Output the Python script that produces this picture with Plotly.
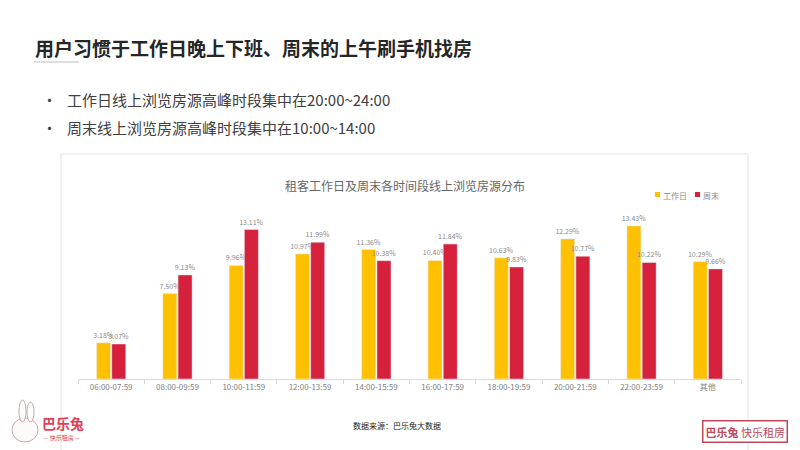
import plotly.graph_objects as go

categories = ['06:00-07:59', '08:00-09:59', '10:00-11:59', '12:00-13:59', '14:00-15:59',
              '16:00-17:59', '18:00-19:59', '20:00-21:59', '22:00-23:59', '其他']
workday = [3.18, 7.50, 9.96, 10.97, 11.36, 10.40, 10.63, 12.29, 13.43, 10.29]
weekend = [3.07, 9.13, 13.11, 11.99, 10.38, 11.84, 9.83, 10.77, 10.22, 9.66]

FONT = "Noto Sans CJK SC"
YELLOW = '#FFC000'
RED = '#D6213D'

# the page body has an 8px margin, so work in screen pixels and shift
OFF = 8
W, H = 800 - OFF, 450 - OFF
# plot area in screen pixels
L, R, T, B = 78, 741, 208, 379


def px_x(x):
    return (x - L) / (R - L)


def px_y(y):
    return (B - y) / (B - T)


fig = go.Figure()
fig.add_trace(go.Bar(
    name='工作日', x=categories, y=workday, marker_color=YELLOW,
    text=[f'{v:.2f}%' for v in workday], textposition='outside', constraintext='none',
    textfont=dict(size=7, color='#8c8c8c'), cliponaxis=False,
))
fig.add_trace(go.Bar(
    name='周末', x=categories, y=weekend, marker_color=RED,
    text=[f'{v:.2f}%' for v in weekend], textposition='outside', constraintext='none',
    textfont=dict(size=7, color='#8c8c8c'), cliponaxis=False,
))

fig.update_layout(
    width=W, height=H,
    margin=dict(l=L - OFF, r=800 - R, t=T - OFF, b=450 - B),
    paper_bgcolor='white', plot_bgcolor='white',
    font=dict(family=FONT, color='#595959'),
    barmode='group', bargap=0.54, bargroupgap=0.08,
    showlegend=False,
)

fig.update_xaxes(
    showline=True, linecolor='#d9d9d9', linewidth=1,
    ticks='outside', tickson='boundaries', ticklen=4, tickcolor='#d9d9d9',
    tickfont=dict(size=8, color='#7f7f7f'), showgrid=False,
)
fig.update_yaxes(range=[0, 15], visible=False, showgrid=False)


def rect(x0, y0, x1, y1, **kw):
    fig.add_shape(type='rect', xref='paper', yref='paper',
                  x0=px_x(x0), x1=px_x(x1), y0=px_y(y1), y1=px_y(y0), **kw)


# chart frame
rect(61, 154, 748, 470, line=dict(color='#e3e3e3', width=1),
     fillcolor='rgba(0,0,0,0)', layer='below')

# title underline
fig.add_shape(type='line', xref='paper', yref='paper',
              x0=px_x(34), x1=px_x(79), y0=px_y(62), y1=px_y(62),
              line=dict(color='#bfbfbf', width=1))

# legend
rect(655, 192, 660, 197, line_width=0, fillcolor=YELLOW)
rect(695, 192, 700, 197, line_width=0, fillcolor=RED)

# little rabbit logo
fig.add_shape(type='circle', xref='paper', yref='paper',
              x0=px_x(12), x1=px_x(38), y0=px_y(442), y1=px_y(418),
              line=dict(color='#c9a7ab', width=1), fillcolor='#fffafa')
fig.add_shape(type='circle', xref='paper', yref='paper',
              x0=px_x(19), x1=px_x(26), y0=px_y(422), y1=px_y(400),
              line=dict(color='#c9a7ab', width=1), fillcolor='white')
fig.add_shape(type='circle', xref='paper', yref='paper',
              x0=px_x(27), x1=px_x(34), y0=px_y(422), y1=px_y(402),
              line=dict(color='#c9a7ab', width=1), fillcolor='white')

annotations = [
    dict(text='<b>用户习惯于工作日晚上下班、周末的上午刷手机找房</b>', x=px_x(33), y=px_y(47),
         xanchor='left', yanchor='middle', font=dict(size=19, color='#262626')),
    dict(text='•', x=px_x(49), y=px_y(99), xanchor='center', yanchor='middle',
         font=dict(size=15, color='#404040')),
    dict(text='工作日线上浏览房源高峰时段集中在20:00~24:00', x=px_x(65), y=px_y(99),
         xanchor='left', yanchor='middle', font=dict(size=15, color='#404040')),
    dict(text='•', x=px_x(49), y=px_y(127), xanchor='center', yanchor='middle',
         font=dict(size=15, color='#404040')),
    dict(text='周末线上浏览房源高峰时段集中在10:00~14:00', x=px_x(65), y=px_y(127),
         xanchor='left', yanchor='middle', font=dict(size=15, color='#404040')),
    dict(text='租客工作日及周末各时间段线上浏览房源分布', x=px_x(405), y=px_y(185),
         xanchor='center', yanchor='middle', font=dict(size=12, color='#666666')),
    dict(text='工作日', x=px_x(661), y=px_y(195), xanchor='left', yanchor='middle',
         font=dict(size=8, color='#8c8c8c')),
    dict(text='周末', x=px_x(701), y=px_y(195), xanchor='left', yanchor='middle',
         font=dict(size=8, color='#8c8c8c')),
    dict(text='数据来源：巴乐兔大数据', x=px_x(397), y=px_y(425),
         xanchor='center', yanchor='middle', font=dict(size=8, color='#262626')),
    dict(text='<b>巴乐兔</b>', x=px_x(40), y=px_y(423), xanchor='left', yanchor='middle',
         font=dict(size=14, color='#E0405A')),
    dict(text='— 快乐租房 —', x=px_x(41), y=px_y(437), xanchor='left', yanchor='middle',
         font=dict(size=6, color='#E0405A')),
    dict(text='<b>巴乐兔</b> 快乐租房', x=px_x(745), y=px_y(431), xanchor='center', yanchor='middle',
         font=dict(size=11, color='#C0485A'), bordercolor='#C0485A', borderwidth=1.5,
         borderpad=2, bgcolor='white'),
]
for a in annotations:
    fig.add_annotation(xref='paper', yref='paper', showarrow=False, **a)

fig.write_html("out.html")
